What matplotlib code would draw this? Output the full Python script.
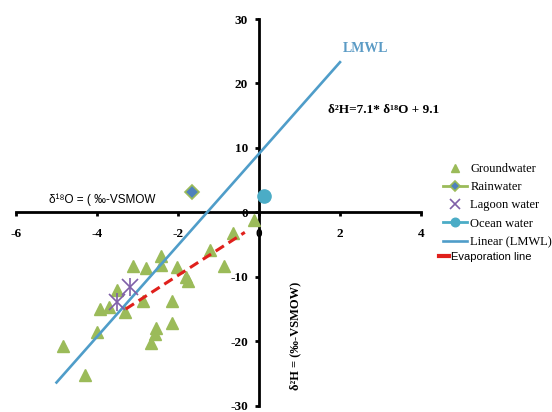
import matplotlib
matplotlib.use("Agg")
import matplotlib.pyplot as plt

# ---------------- data ----------------
gw_d18o = [-4.84, -4.29, -4.00, -3.93, -3.71, -3.51, -3.32, -3.10, -2.80, -2.86,
           -2.55, -2.58, -2.66, -2.41, -2.41, -2.02, -1.81, -1.75, -1.22, -0.87,
           -0.64, -0.12, -2.16, -2.14]
gw_d2h = [-20.7, -25.3, -18.5, -15.0, -14.7, -12.0, -15.5, -8.3, -8.7, -13.8,
          -17.9, -18.9, -20.2, -6.7, -8.2, -8.5, -10.0, -10.6, -5.9, -8.4,
          -3.2, -1.2, -13.7, -17.1]
rain_d18o = [-1.65]
rain_d2h = [3.2]
lagoon_d18o = [-3.50, -3.19]
lagoon_d2h = [-13.9, -11.6]
ocean_d18o = [0.12]
ocean_d2h = [2.6]
lmwl_x = [-5.0, 2.0]
lmwl_y = [-26.4, 23.3]
evap_x = [-3.29, -0.35]
evap_y = [-15.0, -3.1]
x_ticks = [-6, -4, -2, 0, 2, 4]
y_ticks = [-30, -20, -10, 0, 10, 20, 30]

SERIF = ['Liberation Serif', 'DejaVu Serif']
SANS = ['Liberation Sans', 'DejaVu Sans']

fig = plt.figure(figsize=(5.52, 4.12), dpi=100)
W, H = 552, 412
ax = fig.add_axes([16 / W, (H - 405.7) / H, (421 - 16) / W, (405.7 - 19) / H])
ax.set_xlim(-6, 4)
ax.set_ylim(-30, 30)

for s in ['top', 'right']:
    ax.spines[s].set_visible(False)
ax.spines['left'].set_position(('data', 0))
ax.spines['bottom'].set_position(('data', 0))
for s in ['left', 'bottom']:
    ax.spines[s].set_linewidth(2.0)
    ax.spines[s].set_color('black')

ax.set_xticks(x_ticks)
ax.set_yticks(y_ticks)
ax.set_xticklabels([str(v) for v in x_ticks])
ax.set_yticklabels([str(v) for v in y_ticks])
ax.tick_params(axis='both', direction='out', length=3, width=2, color='black')
ax.tick_params(axis='x', pad=8)
ax.tick_params(axis='y', pad=5)
for lab in ax.get_xticklabels() + ax.get_yticklabels():
    lab.set_fontfamily(SERIF)
    lab.set_fontweight('bold')
    lab.set_fontsize(9.5)

# series
gw, = ax.plot(gw_d18o, gw_d2h, linestyle='none', marker='^', ms=8,
              color='#9BBB59', mec='#9BBB59', zorder=3, label='Groundwater')
rain, = ax.plot(rain_d18o, rain_d2h, linestyle='-', lw=2, color='#9BBB59',
                marker='D', ms=7.5, mfc='#4F81BD', mec='#9BBB59', mew=1.2,
                zorder=5, label='Rainwater')
lmwl, = ax.plot(lmwl_x, lmwl_y, color='#4F9DC9', lw=1.9, zorder=4,
                label='Linear (LMWL)')
evap, = ax.plot(evap_x, evap_y, color='#E0201C', lw=2.2,
                linestyle=(0, (3.2, 1.8)), zorder=4, label='Evaporation line')
lag, = ax.plot(lagoon_d18o, lagoon_d2h, linestyle='none', marker='x', ms=12,
               mew=1.2, color='#7F5FA8', zorder=6, label='Lagoon water')
ax.plot(lagoon_d18o, lagoon_d2h, linestyle='none', marker='|', ms=13,
        mew=1.2, color='#7F5FA8', zorder=6)
ocean, = ax.plot(ocean_d18o, ocean_d2h, linestyle='-', lw=2, color='#4BACC6',
                 marker='o', ms=9.5, mfc='#4BACC6', mec='#4BACC6', zorder=5,
                 label='Ocean water')

# annotations
fig.text(366 / W, 1 - 49 / H, 'LMWL', color='#5B9BC5', fontsize=10,
         fontweight='bold', family=SERIF, ha='center', va='center')
fig.text(328 / W, 1 - 110 / H, 'δ²H=7.1* δ¹⁸O + 9.1', color='black',
         fontsize=9.5, fontweight='bold', family=SERIF, ha='left', va='center')
fig.text(102 / W, 1 - 200 / H, 'δ¹⁸O = ( ‰-VSMOW', color='black',
         fontsize=8.5, family=SANS, ha='center', va='center')
fig.text(295 / W, 1 - 336 / H, 'δ²H = (‰-VSMOW)', color='black',
         fontsize=9, fontweight='bold', family=SERIF, rotation=90,
         ha='center', va='center')

# legends
leg1 = ax.legend(handles=[gw, rain, lag, ocean, lmwl],
                 loc='upper left', bbox_to_anchor=(443 / W, 1 - 163 / H),
                 bbox_transform=fig.transFigure, frameon=False,
                 prop={'family': SERIF, 'size': 9}, handlelength=1.9,
                 handletextpad=0.3, labelspacing=0.5, borderpad=0,
                 borderaxespad=0, markerscale=0.65)
ax.add_artist(leg1)
leg2 = ax.legend(handles=[evap], loc='upper left',
                 bbox_to_anchor=(439 / W, 1 - 252 / H),
                 bbox_transform=fig.transFigure, frameon=False,
                 prop={'family': SANS, 'size': 8}, handlelength=0.9,
                 handletextpad=0.15, borderpad=0, borderaxespad=0)
for l in leg2.get_lines():
    l.set_linestyle('-')
    l.set_linewidth(3)

fig.savefig('out.png', dpi=100)
